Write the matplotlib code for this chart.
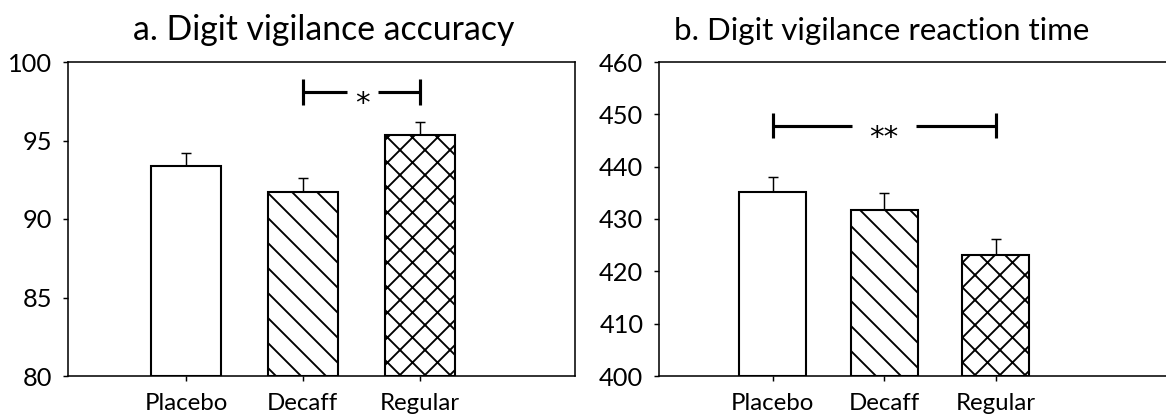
import matplotlib
matplotlib.use("Agg")
from matplotlib import pyplot as plt

# data
groups = ["Placebo", "Decaff", "Regular"]
hatches = ["", "\\\\", "xx"]
acc_mean = [93.35, 91.75, 95.35]
acc_err = [0.85, 0.85, 0.85]
rt_mean = [435.1, 431.8, 423.2]
rt_err = [3.0, 3.2, 2.9]
acc_ticks = [80, 85, 90, 95, 100]
rt_ticks = [400, 410, 420, 430, 440, 450, 460]

plt.rcParams['font.family'] = ['Lato', 'DejaVu Sans']
plt.rcParams['hatch.linewidth'] = 0.9

# dpi 150 so that the hatch spacing matches the reference
dpi = 150
fig = plt.figure(figsize=(1166 / dpi, 419 / dpi), dpi=dpi)
W, H = 1166.0, 419.0

def make_axes(left, right, top, bottom):
    return fig.add_axes([left / W, 1 - bottom / H, (right - left) / W, (bottom - top) / H])

def draw_panel(ax, means, errs, ticks, xlim):
    xs = list(range(len(groups)))
    for x, m, h in zip(xs, means, hatches):
        ax.bar([x], [m - ticks[0]], bottom=ticks[0], width=0.6, color="white",
               edgecolor="black", linewidth=1.0, hatch=h, zorder=2)
    ax.errorbar(xs, means, yerr=[[0] * len(errs), errs], fmt="none",
                ecolor="black", elinewidth=0.7, capsize=2.6, capthick=0.7, zorder=1)
    ax.set_xlim(*xlim)
    ax.set_ylim(ticks[0], ticks[-1])
    ax.set_yticks(ticks)
    ax.set_xticks(xs)
    ax.set_xticklabels(groups)
    ax.tick_params(axis="y", direction="out", length=2.5, width=0.7, pad=5, labelsize=12.2)
    ax.tick_params(axis="x", direction="out", length=2.5, width=0.7, pad=5.5, labelsize=11.5)
    for s in ax.spines.values():
        s.set_linewidth(0.75)

def bracket(ax, x1, x2, y, dy, g1, g2, label):
    kw = dict(color="black", linewidth=1.5, solid_capstyle="butt", clip_on=False)
    ax.plot([x1, g1], [y, y], **kw)
    ax.plot([g2, x2], [y, y], **kw)
    ax.plot([x1, x1], [y - dy, y + dy], **kw)
    ax.plot([x2, x2], [y - dy, y + dy], **kw)
    ax.annotate(label, ((g1 + g2) / 2, y), xytext=(0, -9.5), textcoords="offset points",
                ha="center", va="baseline", fontsize=14, family="DejaVu Sans")

ax1 = make_axes(68, 575, 62, 376)
draw_panel(ax1, acc_mean, acc_err, acc_ticks, (-1.01, 3.33))
bracket(ax1, 1, 2, 98.07, 0.83, 1.376, 1.64, "*")

ax2 = make_axes(659, 1172, 62, 376)
draw_panel(ax2, rt_mean, rt_err, rt_ticks, (-1.02, 3.58))
bracket(ax2, 0, 2, 447.8, 2.4, 0.71, 1.28, "**")

fig.text(324 / W, 1 - 40 / H, "a. Digit vigilance accuracy", ha="center",
         va="baseline", fontsize=16.2)
fig.text(882 / W, 1 - 40 / H, "b. Digit vigilance reaction time", ha="center",
         va="baseline", fontsize=15.0)

fig.savefig("out.png", dpi=dpi)
